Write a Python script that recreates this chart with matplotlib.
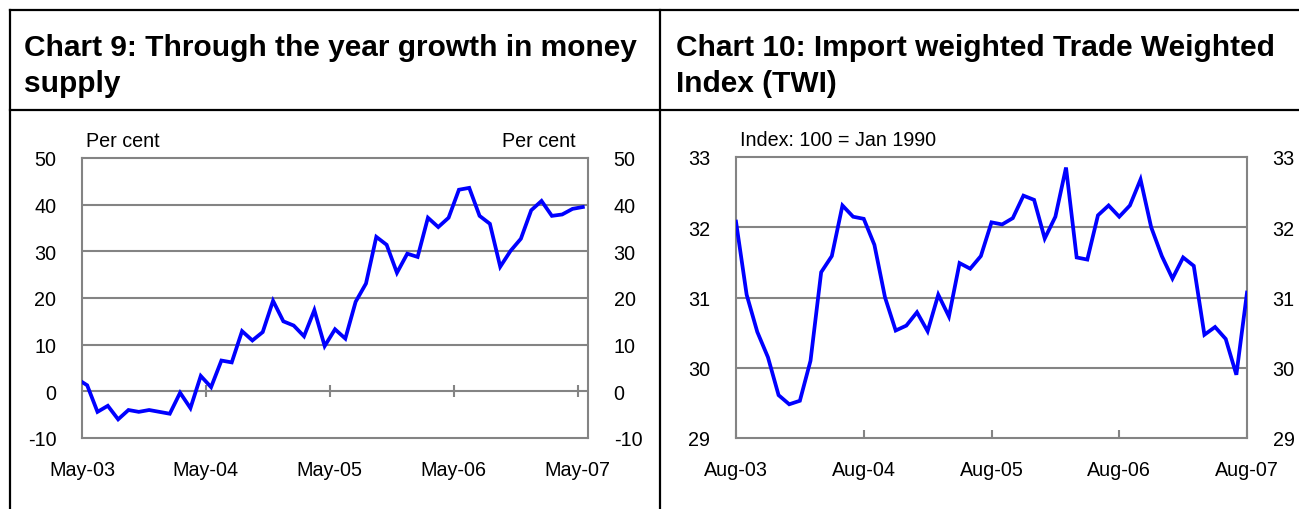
import matplotlib
matplotlib.use("Agg")
import matplotlib.pyplot as plt
from matplotlib.lines import Line2D
import numpy as np

plt.rcParams['font.family'] = ['Liberation Sans', 'DejaVu Sans']
plt.rcParams['axes.unicode_minus'] = False

# Chart 9: through the year growth in money supply (per cent), monthly
m9_ticks = ['May-03', 'May-04', 'May-05', 'May-06', 'May-07']
m9_growth = [2.7, 1.3, -4.4, -3.1, -6.0, -4.0, -4.4, -4.0, -4.4, -4.8,
             -0.3, -3.6, 3.3, 0.9, 6.6, 6.2, 12.9, 10.9, 12.7, 19.4,
             15.0, 14.1, 11.8, 17.4, 9.7, 13.3, 11.3, 19.2, 23.1, 33.1,
             31.4, 25.4, 29.5, 28.8, 37.2, 35.2, 37.2, 43.2, 43.6, 37.6,
             35.9, 26.7, 30.1, 32.7, 38.8, 40.8, 37.6, 37.9, 39.1, 39.5]

# Chart 10: import weighted TWI, monthly
twi_ticks = ['Aug-03', 'Aug-04', 'Aug-05', 'Aug-06', 'Aug-07']
twi_index = [32.08, 31.04, 30.51, 30.15, 29.61, 29.48, 29.53, 30.10, 31.36, 31.59,
             32.31, 32.15, 32.12, 31.75, 31.00, 30.53, 30.60, 30.79, 30.52, 31.04,
             30.73, 31.49, 31.41, 31.59, 32.07, 32.04, 32.13, 32.45, 32.39, 31.84,
             32.15, 32.85, 31.57, 31.54, 32.17, 32.31, 32.15, 32.31, 32.68, 32.00,
             31.59, 31.27, 31.57, 31.45, 30.47, 30.58, 30.41, 29.90, 31.07]

W, H = 1299, 510
GREY = '#848484'
BLUE = '#0000ff'
TICK_FS = 14.2

fig = plt.figure(figsize=(W / 100, H / 100), dpi=100)


def ax_rect(left, top, right, bottom):
    return [left / W, 1 - bottom / H, (right - left) / W, (bottom - top) / H]


def style_axes(ax, yticks):
    for s in ax.spines.values():
        s.set_color(GREY)
        s.set_linewidth(1.5)
    ax.set_yticks(yticks)
    ax.tick_params(axis='y', left=False, right=False, labelleft=True,
                   labelright=True, labelsize=TICK_FS, pad=15)
    for y in yticks[1:-1]:
        ax.axhline(y, color=GREY, lw=1.5, zorder=1)


# ---- Chart 9
ax1 = fig.add_axes(ax_rect(82, 159, 588, 439))
x9 = np.arange(len(m9_growth)) - 0.5
ax1.plot(x9, m9_growth, color=BLUE, lw=2.7, zorder=3, solid_joinstyle='miter')
ax1.set_xlim(0, 49)
ax1.set_ylim(-10, 50)
style_axes(ax1, [-10, 0, 10, 20, 30, 40, 50])
xt9 = np.arange(len(m9_ticks)) * 12
ax1.set_xticks(xt9)
ax1.set_xticklabels(m9_ticks)
ax1.tick_params(axis='x', length=0, labelsize=TICK_FS, pad=16)
# category axis crosses at zero, with ticks across it
ax1.vlines(xt9[1:], -1.3, 1.3, color=GREY, lw=1.5, zorder=2)
ax1.text(0.008, 1.03, 'Per cent', transform=ax1.transAxes, fontsize=TICK_FS,
         ha='left', va='bottom')
ax1.text(0.975, 1.03, 'Per cent', transform=ax1.transAxes, fontsize=TICK_FS,
         ha='right', va='bottom')

# ---- Chart 10
ax2 = fig.add_axes(ax_rect(736, 158, 1247, 439))
x10 = np.arange(len(twi_index))
ax2.plot(x10, twi_index, color=BLUE, lw=2.7, zorder=3, solid_joinstyle='miter')
ax2.set_xlim(0, 48)
ax2.set_ylim(29, 33)
style_axes(ax2, [29, 30, 31, 32, 33])
ax2.set_xticks(np.arange(len(twi_ticks)) * 12)
ax2.set_xticklabels(twi_ticks)
ax2.tick_params(axis='x', direction='in', length=6, width=1.5, color=GREY,
                labelsize=TICK_FS, pad=16)
ax2.text(0.008, 1.03, 'Index: 100 = Jan 1990', transform=ax2.transAxes,
         fontsize=TICK_FS, ha='left', va='bottom')

# ---- titles and frame
fig.text(24 / W, 1 - 66 / H, 'Chart 9: Through the year growth in money\nsupply',
         fontsize=21.5, fontweight='bold', ha='left', va='center', linespacing=1.32)
fig.text(676 / W, 1 - 66 / H, 'Chart 10: Import weighted Trade Weighted\nIndex (TWI)',
         fontsize=21.5, fontweight='bold', ha='left', va='center', linespacing=1.32)

for (x0, y0, x1, y1) in [(10, 11, W, 11), (10, 111, W, 111),
                         (10, 11, 10, H), (660, 11, 660, H)]:
    fig.add_artist(Line2D([x0 / W, x1 / W], [1 - y0 / H, 1 - y1 / H],
                          color='black', lw=1.6))

fig.savefig('out.png', dpi=100)
